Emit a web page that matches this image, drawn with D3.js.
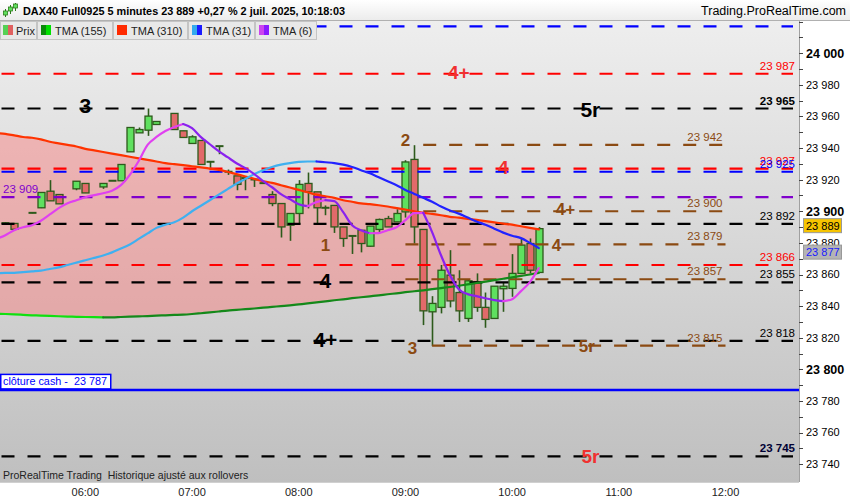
<!DOCTYPE html>
<html><head><meta charset="utf-8">
<script src="https://cdn.jsdelivr.net/npm/d3@7/dist/d3.min.js"></script>
<style>body{margin:0;background:#fff;} svg{display:block;font-family:"Liberation Sans",Arial,sans-serif;}</style>
</head><body><svg id="c" width="850" height="500"></svg>
<script>
// ---------------- DATA ----------------
const times = [
 "05:10","05:15","05:20","05:25","05:30","05:35","05:40","05:45","05:50","05:55",
 "06:00","06:05","06:10","06:15","06:20","06:25","06:30","06:35","06:40","06:45","06:50","06:55",
 "07:00","07:05","07:10","07:15","07:20","07:25","07:30","07:35","07:40","07:45","07:50","07:55",
 "08:00","08:05","08:10","08:15","08:20","08:25","08:30","08:35","08:40","08:45","08:50","08:55",
 "09:00","09:05","09:10","09:15","09:20","09:25","09:30","09:35","09:40","09:45","09:50","09:55",
 "10:00","10:05","10:10","10:15"];
const open = [
 null,23892.5,23892.3,null,23899,23902.2,23912.7,23910.6,null,23914.2,
 23917.6,null,23915.4,23919.3,23919.3,23937.6,23949.6,23951.3,23954.9,null,23961.9,23950.9,
 23942.9,23944.8,23931.3,23941.2,23925,23922.4,23921,23920.1,23917.8,23910.6,23904.9,23891.2,
 23898.6,23917.6,23912.3,23902.2,23903.7,23890.1,23884.4,23888,23877.9,23888.5,23895.4,23893.3,
 23899.6,23932.8,23888.5,23836.4,23839.2,23859.6,23848.6,23832.2,23855.4,23839.2,23832.2,23851,
 23851.2,23860.7,23879.6,23861.3];
const high = [
 null,23893,23892.3,null,23899.3,23912,23919.7,23910.6,null,23919,
 23917.6,null,23917.6,23919.5,23929.6,23953,23953,23965,23956.8,null,23961.9,23950.9,
 23948.1,23944.8,23931.3,23941.2,23926.4,23922.4,23921.8,23920.6,23918.3,23912.7,23904.9,23898.6,
 23919.7,23924.5,23912.3,23903.7,23903.7,23890.1,23884.4,23888,23890.6,23895.4,23897.1,23901.3,
 23932.3,23941.8,23888.5,23846.3,23866,23875.4,23862.7,23857,23860.7,23848.6,23852.6,23855,
 23872.9,23882.8,23882.8,23890];
const low = [
 null,23892,23888.6,null,23898.7,23902,23906.6,23904.7,null,23913.3,
 23911.6,null,23914.2,23919.2,23919.3,23937.6,23949.6,23947.7,23954.9,null,23951.7,23946.7,
 23942.9,23929.6,23927.5,23936.1,23923,23913.3,23913.3,23915.4,23917.3,23903.2,23883.4,23881.3,
 23891.6,23901.8,23891.8,23897.5,23886.3,23877.5,23873,23874,23877.5,23886,23890.1,23893.3,
 23896,23879.6,23828,23814.7,23835.4,23839.2,23830,23830,23836.4,23826.3,23832.2,23836.4,
 23845.9,23860.7,23860.7,23861.3];
const close = [
 null,23892.6,23888.6,null,23899,23911.9,23906.6,23904.7,null,23919,
 23911.6,null,23917.6,23919.4,23929.6,23953,23951.7,23960.2,23956.8,null,23951.7,23946.7,
 23947.1,23929.6,23931.2,23941.2,23925.1,23917,23920.6,23920.1,23918,23904.9,23890.1,23898.6,
 23917,23912.3,23902.2,23902.3,23890.1,23882.8,23884.4,23879.6,23890.6,23894.8,23890.1,23898.6,
 23931.2,23890.1,23837,23841.7,23862.7,23843.3,23837,23856,23839.2,23831.6,23852.6,23852.6,
 23860.7,23878.6,23862.7,23889];
const tma310 = [
 23949.5,23949,23948,23947,23946.5,23945.5,23944,23943,23942,23941,
 23939.5,23938.5,23937.5,23936.5,23935.5,23934.5,23933.5,23932.5,23931.5,23930.5,23929.8,23929.2,
 23928.5,23927.8,23927,23926.2,23925,23923.5,23922,23920.5,23919,23918,23916.5,23915,
 23913.5,23912,23910.5,23909.5,23908.5,23907,23906,23905,23904.5,23903.8,23903,23902,
 23901,23900,23899,23898.3,23897.5,23896.5,23896,23895.2,23894.5,23893.8,23893,23892.2,
 23891.5,23890.5,23889.5,23888.5];
const tma155 = [
 23835.1,23835,23834.8,23834.5,23834.2,23834,23833.8,23833.6,23833.4,23833.2,
 23833.1,23833,23832.9,23832.9,23833.1,23833.3,23833.5,23833.7,23834,23834.2,23834.4,23834.6,
 23835,23835.5,23836,23836.6,23837.2,23837.6,23838.1,23838.5,23839,23839.5,23840,23840.5,
 23841.1,23841.7,23842.4,23843,23843.7,23844.3,23845,23845.6,23846.2,23846.8,23847.5,23848.1,
 23848.8,23849.4,23850,23850.7,23851.4,23852.1,23852.9,23853.7,23854.6,23855.5,23856.4,23857.3,
 23858.2,23859.1,23860,23861];
const tma31 = [
 23860.8,23861,23861,23861.5,23862,23862.5,23863.5,23864.5,23866,23867.5,
 23869,23870.5,23872,23874,23876.5,23879,23882.5,23886,23889.5,23891.5,23893,23896,
 23900,23903.5,23907,23910.5,23914,23917.5,23920.5,23923.5,23926,23928,23929.5,23930.5,
 23931.2,23931.5,23931.5,23931,23930.5,23929.5,23928,23926,23924,23921.5,23919,23916.5,
 23913.5,23911,23908.5,23906,23903,23900.5,23898.5,23896,23893.5,23891.5,23889,23886.5,
 23884.5,23883,23880,23876.7];
const tma6 = [
 23882.5,23884.9,23888,23889.9,23891.2,23894,23898,23902,23905.1,23907,
 23908.9,23910.2,23911.4,23913,23916.5,23923,23931.8,23942,23947,23950.8,23953.3,23955.2,
 23952.6,23946.9,23942.4,23938,23934.2,23930.4,23927.3,23923.5,23919,23915.2,23910.8,23907.7,
 23904.5,23903.2,23905.8,23907,23906.4,23899.4,23891.2,23888,23886.1,23886.2,23888,23889.9,
 23894.4,23898.8,23899,23886.8,23872.2,23859.6,23850.7,23847.6,23846.3,23845,23843.8,23843.1,
 23844.4,23849.5,23855.2,23864];

const levelValues = [24017,23987,23965,23942,23927,23925,23909,23900,23892,23879,23866,23857,23855,23818,23815,23745];
const levelKinds  = ["blue","red","black","brown","red","blue","purple","brown","black","brown","red","brown","black","black","brown","black"];
const levelStarts = [null,null,null,"09:10",null,null,null,"09:10",null,"09:00",null,"09:00",null,null,"09:15",null];
const levelShowLabel = [false,true,true,true,true,true,true,true,true,true,true,true,true,true,true,true];
const brownEnd = "12:00";
const cashClose = 23787;
const cashLabel = "clôture cash -  23 787";

const waveTexts  = ["3","4+","5r","2","4","4+","4","1","4","4+","3","5r","5r"];
const waveTimes  = ["06:00","09:30","10:44","09:00","09:55","10:30","10:25","08:15","08:15","08:15","09:04","10:42","10:44"];
const waveValues = [23967,23987.5,23964.6,23945,23927.4,23901.4,23878.6,23878.6,23856.5,23818.6,23813.5,23814.7,23745];
const waveKinds  = ["black","red","black","brown","red","brown","brown","brown","black","black","brown","brown","red"];

const lastPrice = 23889;
const lastTma31 = 23877;
const hourTicks = ["06:00","07:00","08:00","09:00","10:00","11:00","12:00"];
const titleText = "DAX40 Full0925 5 minutes 23 889 +0,27 % 2 juil. 2025, 10:18:03";
const siteText = "Trading.ProRealTime.com";
const footText = "ProRealTime Trading  Historique ajusté aux rollovers";
const legendLabels = ["Prix","TMA (155)","TMA (310)","TMA (31)","TMA (6)"];

// ---------------- LAYOUT ----------------
const W=850,H=500,plotL=0,plotR=799,plotT=20,plotB=482;
const svg=d3.select("#c");
const defs=svg.append("defs");
const bg=defs.append("linearGradient").attr("id","bg").attr("x1",0).attr("y1",0).attr("x2",0).attr("y2",1);
bg.append("stop").attr("offset","0%").attr("stop-color","#eeeeee");
bg.append("stop").attr("offset","100%").attr("stop-color","#bfbfbf");
const hg=defs.append("linearGradient").attr("id","hg").attr("x1",0).attr("y1",0).attr("x2",0).attr("y2",1);
hg.append("stop").attr("offset","0%").attr("stop-color","#ffffff");
hg.append("stop").attr("offset","100%").attr("stop-color","#ececec");
defs.append("clipPath").attr("id","clip").append("rect").attr("x",plotL).attr("y",plotT).attr("width",plotR-plotL).attr("height",plotB-plotT);

svg.append("rect").attr("width",W).attr("height",H).attr("fill","#fff");
svg.append("rect").attr("x",plotL).attr("y",plotT).attr("width",plotR-plotL).attr("height",plotB-plotT).attr("fill","url(#bg)");

const parse=d3.timeParse("%H:%M");
const tStart=parse("05:12");
const tEnd=new Date(tStart.getTime()+449.33*60000);
const x=d3.scaleTime().domain([tStart,tEnd]).range([plotL,plotR]);
const y=d3.scaleLinear().domain([23730,24021]).range([480,20]);
const T=times.map(parse);
const idx=d3.range(times.length);
const fmt=v=>d3.format(",")(v).replace(",","\u00a0");

const g=svg.append("g").attr("clip-path","url(#clip)");

// fill between TMA310 and TMA155
g.append("path").datum(idx)
 .attr("d",d3.area().x(i=>x(T[i])).y0(i=>y(tma155[i])).y1(i=>y(tma310[i])))
 .attr("fill","rgba(255,110,110,0.40)");

// candles
const wickCol="#2d5a1b";
const cdata=idx.filter(i=>open[i]!=null);
const cg=g.append("g");
cg.selectAll("line.w").data(cdata).join("line").attr("class","w")
 .attr("x1",i=>Math.round(x(T[i]))+0.5).attr("x2",i=>Math.round(x(T[i]))+0.5)
 .attr("y1",i=>y(high[i])).attr("y2",i=>y(low[i]))
 .attr("stroke",wickCol).attr("stroke-width",1.6);
cg.selectAll("rect.b").data(cdata.filter(i=>Math.abs(open[i]-close[i])>=0.5)).join("rect").attr("class","b")
 .attr("x",i=>Math.round(x(T[i]))-3).attr("width",7)
 .attr("y",i=>y(Math.max(open[i],close[i])))
 .attr("height",i=>Math.abs(y(open[i])-y(close[i])))
 .attr("fill",i=>close[i]>=open[i]?"#5fe05f":"#e26a6a")
 .attr("stroke",wickCol).attr("stroke-width",1.3);
cg.selectAll("line.d").data(cdata.filter(i=>Math.abs(open[i]-close[i])<0.5)).join("line").attr("class","d")
 .attr("x1",i=>Math.round(x(T[i]))-3.5).attr("x2",i=>Math.round(x(T[i]))+4.5)
 .attr("y1",i=>y(open[i])).attr("y2",i=>y(open[i]))
 .attr("stroke",wickCol).attr("stroke-width",2);

// level lines
const kindColor={black:"#000000",red:"#ff0000",blue:"#0000ff",purple:"#8000cc",brown:"#8b4a12"};
const lg=g.append("g");
levelValues.forEach((v,k)=>{
  const kind=levelKinds[k], col=kindColor[kind];
  const x1=levelStarts[k]?x(parse(levelStarts[k])):plotL+1.5;
  const x2=kind==="brown"?x(parse(brownEnd)):plotR-6;
  const yy=y(v);
  lg.append("line").attr("x1",x1).attr("x2",x2).attr("y1",yy).attr("y2",yy)
    .attr("stroke",col).attr("stroke-width",2.2).attr("stroke-dasharray","13,13");
  if(!levelShowLabel[k]) return;
  const t=lg.append("text").attr("y",yy-4).attr("font-size",11.5).attr("fill",col).text(fmt(v));
  if(kind==="purple") t.attr("x",3).attr("text-anchor","start");
  else if(kind==="brown") t.attr("x",x2-3).attr("text-anchor","end");
  else t.attr("x",plotR-4).attr("text-anchor","end");
  if(v===23965||v===23745) t.attr("font-weight","bold").attr("fill",v===23745?"#000033":"#000");
});

// cash close line
const yc=y(cashClose);
lg.append("line").attr("x1",plotL).attr("x2",plotR).attr("y1",yc).attr("y2",yc).attr("stroke","#0000ff").attr("stroke-width",2.5);
lg.append("rect").attr("x",0.75).attr("y",yc-15.5).attr("width",110).attr("height",14.5).attr("fill","#fff").attr("stroke","#0000ff").attr("stroke-width",1.5);
lg.append("text").attr("x",3).attr("y",yc-4.5).attr("font-size",11.5).attr("fill","#0000ff")
  .attr("textLength",104).attr("lengthAdjust","spacingAndGlyphs").style("white-space","pre").text(cashLabel);

// moving averages, coloured by slope
function slopeLine(vals,upCol,downCol){
  const runs=[];let cur=null;
  for(let i=1;i<vals.length;i++){
    const col=vals[i]>=vals[i-1]?upCol:downCol;
    if(!cur||cur.col!==col){cur={col,pts:[i-1]};runs.push(cur);}
    cur.pts.push(i);
  }
  const ln=d3.line().x(i=>x(T[i])).y(i=>y(vals[i])).curve(d3.curveMonotoneX);
  runs.forEach(r=>g.append("path").datum(r.pts).attr("d",ln).attr("fill","none")
    .attr("stroke",r.col).attr("stroke-width",2.2).attr("stroke-linecap","round").attr("stroke-linejoin","round"));
}
slopeLine(tma155,"#14891a","#10e010");
slopeLine(tma310,"#ff3300","#ff3300");
slopeLine(tma31,"#3fb0f0","#2222ff");
slopeLine(tma6,"#e040f0","#8a22ee");

// wave labels
const waveCol={black:"#000",red:"#f03030",brown:"#8b4a12"};
const waveSize={black:21,red:19,brown:17};
waveTexts.forEach((s,k)=>{
  g.append("text").attr("x",x(parse(waveTimes[k]))).attr("y",y(waveValues[k]))
   .attr("text-anchor","middle").attr("dominant-baseline","central")
   .attr("font-size",waveSize[waveKinds[k]]).attr("font-weight","bold")
   .attr("fill",waveCol[waveKinds[k]]).text(s);
});

// footer text inside plot
svg.append("text").attr("x",3).attr("y",479).attr("font-size",10.5).attr("fill","#222").style("white-space","pre").text(footText);

// right axis
svg.append("rect").attr("x",plotR).attr("y",plotT).attr("width",W-plotR).attr("height",H-plotT).attr("fill","#fff");
svg.append("rect").attr("x",0).attr("y",plotB).attr("width",plotR).attr("height",H-plotB).attr("fill","#fff");
svg.append("line").attr("x1",plotR+0.5).attr("x2",plotR+0.5).attr("y1",plotT).attr("y2",plotB).attr("stroke","#a0a0a0");
svg.append("line").attr("x1",0).attr("x2",plotR).attr("y1",plotB+0.5).attr("y2",plotB+0.5).attr("stroke","#d0d0d0");
const ax=svg.append("g");
ax.selectAll("line").data(d3.range(23740,24021,10)).join("line")
 .attr("x1",plotR).attr("x2",plotR+4).attr("y1",v=>Math.round(y(v))+0.5).attr("y2",v=>Math.round(y(v))+0.5).attr("stroke","#444");
ax.selectAll("text").data(d3.range(23740,24001,20)).join("text")
 .attr("x",plotR+7).attr("y",v=>y(v)).attr("dy","0.35em")
 .attr("font-size",v=>v%100===0?12.5:11).attr("font-weight",v=>v%100===0?"bold":"normal")
 .attr("fill","#000").text(fmt);

// price boxes
const yp=y(lastPrice)-3;
svg.append("rect").attr("x",plotR+4.5).attr("y",yp-7).attr("width",38).attr("height",14).attr("fill","#f6c400").attr("stroke","#999");
svg.append("text").attr("x",plotR+7).attr("y",yp).attr("dy","0.35em").attr("font-size",11).attr("fill","#000").text(fmt(lastPrice));
const yb=y(lastTma31)+4.5;
svg.append("rect").attr("x",plotR+4.5).attr("y",yb-7).attr("width",38).attr("height",14).attr("fill","#b4b4b4").attr("stroke","#999");
svg.append("text").attr("x",plotR+7).attr("y",yb).attr("dy","0.35em").attr("font-size",11).attr("fill","#1a1aff").text(fmt(lastTma31));

// time axis
svg.append("g").selectAll("text").data(hourTicks).join("text")
 .attr("x",d=>x(parse(d))).attr("y",496).attr("text-anchor","middle").attr("font-size",11).attr("fill","#222").text(d=>d);

// header
svg.append("rect").attr("x",0).attr("y",0).attr("width",W).attr("height",plotT).attr("fill","url(#hg)");
svg.append("line").attr("x1",0).attr("x2",W).attr("y1",plotT+0.5).attr("y2",plotT+0.5).attr("stroke","#b0b0b0");
const icon=svg.append("g");
[[5,9,17,11,15],[10,5,14,7,11],[15,3,11,4,8]].forEach(c=>{
  icon.append("line").attr("x1",c[0]+0.5).attr("x2",c[0]+0.5).attr("y1",c[1]).attr("y2",c[2]).attr("stroke","#2d7a1b").attr("stroke-width",1);
  icon.append("rect").attr("x",c[0]-1.5).attr("y",c[3]).attr("width",4).attr("height",c[4]-c[3]).attr("fill","#5fe05f").attr("stroke","#2d7a1b").attr("stroke-width",0.8);
});
svg.append("text").attr("x",23).attr("y",15).attr("font-size",11.5).attr("font-weight","bold").attr("fill","#000")
  .attr("textLength",322).attr("lengthAdjust","spacingAndGlyphs").text(titleText);
svg.append("text").attr("x",846).attr("y",15).attr("text-anchor","end").attr("font-size",12.5).attr("fill","#000").text(siteText);

// legend
const boxX=[0,37,113,188,255,317];
const swatches=[["#55d055","#e06060"],["#0a8a0a","#00e000"],["#ff2a00"],["#33aaee","#1a1aff"],["#cc44ee","#8a1aff"]];
legendLabels.forEach((lab,k)=>{
  const bx=boxX[k], bw=boxX[k+1]-boxX[k];
  svg.append("rect").attr("x",bx+0.5).attr("y",21.5).attr("width",bw-1).attr("height",18).attr("fill","#e8e8e8").attr("stroke","#c4c4c4");
  const sw=swatches[k], sx=bx+(k===0?3:4);
  if(sw.length===1) svg.append("rect").attr("x",sx).attr("y",25).attr("width",10).attr("height",10).attr("fill",sw[0]);
  else sw.forEach((c,j)=>svg.append("rect").attr("x",sx+j*5).attr("y",25).attr("width",5).attr("height",10).attr("fill",c));
  svg.append("text").attr("x",bx+(k===0?16:18)).attr("y",34.5).attr("font-size",11).attr("fill","#222").text(lab);
});
</script></body></html>
